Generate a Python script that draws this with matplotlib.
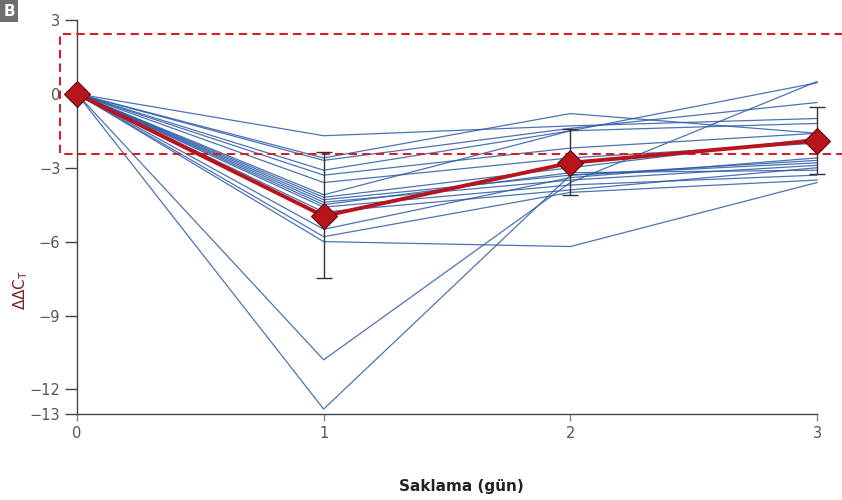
import numpy as np
import matplotlib
matplotlib.use("Agg")
import matplotlib.pyplot as plt

# storage days
days = [0, 1, 2, 3]

# individual samples, ddCt at day 1, 2, 3 (day 0 is always 0)
samples = [
    [-1.7, -1.3, -1.0],
    [-2.6, -0.8, -1.6],
    [-2.7, -1.4, -0.35],
    [-3.1, -1.5, -1.2],
    [-3.3, -2.2, -1.6],
    [-3.6, -2.6, -2.0],
    [-4.1, -1.5, 0.45],
    [-4.2, -3.0, -1.8],
    [-4.3, -3.3, -2.7],
    [-4.4, -3.5, -2.9],
    [-4.5, -3.2, -3.1],
    [-4.6, -3.7, -3.3],
    [-4.8, -3.9, -3.0],
    [-5.5, -3.4, -2.6],
    [-5.8, -4.0, -3.5],
    [-6.0, -6.2, -3.6],
    [-10.8, -3.6, 0.5],
    [-12.8, -3.3, -2.8],
]

# mean and error bar ends
mean_vals = [0, -4.96, -2.8, -1.9]
err_top = [0, -2.36, -1.42, -0.55]
err_bot = [0, -7.48, -4.1, -3.25]

# acceptance window
win_y = 2.44

yticks = [3, 0, -3, -6, -9, -12, -13]
ytick_labels = ["3", "0", "\u22123", "\u22126", "\u22129", "\u221212", "\u221213"]

blue = "#2c5ba6"
red = "#b8141c"
grey = "#555555"

fig = plt.figure(figsize=(8.42, 5.0), dpi=100)
ax = fig.add_axes([0.0914, 0.172, 0.879, 0.788])

for s in samples:
    ax.plot(days, [0] + s, color=blue, lw=0.9, alpha=0.85, zorder=2, clip_on=False)

# dashed window
ax.plot([3.2, -0.07, -0.07, 3.2], [win_y, win_y, -win_y, -win_y],
        color="#d0202a", lw=1.5, ls=(0, (4, 2.5)), zorder=3, clip_on=False)

m = np.array(mean_vals)
lo = m - np.array(err_bot)
hi = np.array(err_top) - m
ax.errorbar(days[1:], m[1:], yerr=[lo[1:], hi[1:]], fmt="none", ecolor="#333333",
            elinewidth=1.0, capsize=6, capthick=1.0, zorder=4, clip_on=False)
ax.plot(days, mean_vals, color=red, lw=2.8, zorder=5, clip_on=False)
ax.plot(days, mean_vals, ls="none", marker="D", ms=13, mfc=red, mec="#5a1010",
        mew=0.8, zorder=6, clip_on=False)

ax.set_xlim(0, 3)
ax.set_ylim(-13, 3)
ax.set_xticks(days)
ax.set_yticks(yticks)
ax.set_yticklabels(ytick_labels)
for sp in ["top", "right"]:
    ax.spines[sp].set_visible(False)
for sp in ["left", "bottom"]:
    ax.spines[sp].set_color("#444444")
    ax.spines[sp].set_linewidth(1.0)
ax.tick_params(axis="y", length=9, width=1.0, color="#444444", labelcolor=grey,
               labelsize=10.5, pad=3)
ax.tick_params(axis="x", length=5, width=1.0, color="#888888", labelcolor=grey,
               labelsize=10.5, pad=4)

fig.text(0.024, 0.42, "\u0394\u0394C$_\\mathregular{T}$", rotation=90, color="#7a2020",
         fontsize=11, ha="center", va="center")
fig.text(461 / 842, 0.026, "Saklama (g\u00fcn)", fontsize=11, fontweight="bold",
         color="#222222", ha="center", va="center")
fig.text(0.011, 0.978, "B", fontsize=11, fontweight="bold", color="white",
         ha="center", va="center",
         bbox=dict(boxstyle="square,pad=0.2", fc="#6d6e71", ec="none"))

fig.savefig("out.png", dpi=100)
